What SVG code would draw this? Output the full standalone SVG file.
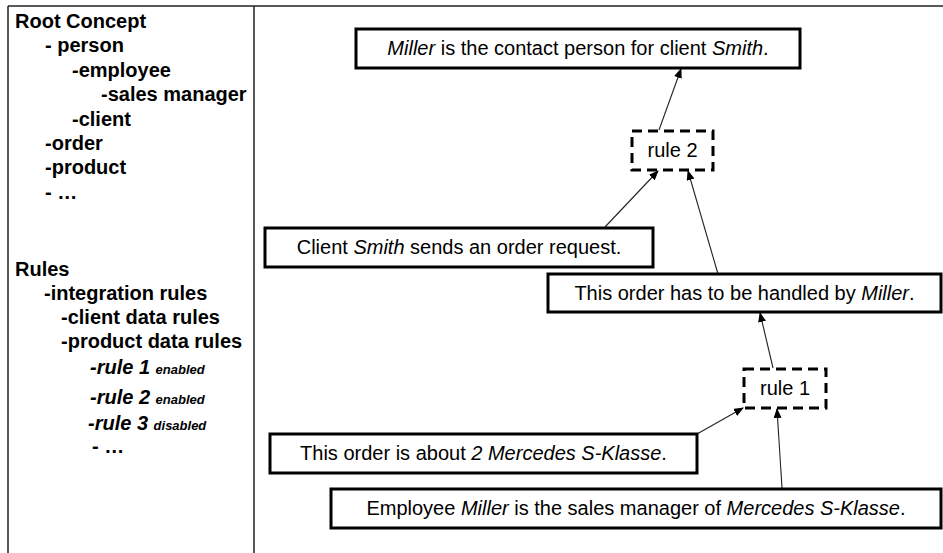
<svg xmlns="http://www.w3.org/2000/svg" width="943" height="553" viewBox="0 0 943 553">
<style>
text{font-family:"Liberation Sans",Arial,sans-serif;fill:#000}
.t{font-size:20px;font-weight:bold}
.n{font-size:20px}
.s{font-size:13px;font-weight:bold;font-style:italic}
.box{fill:#fff;stroke:#000;stroke-width:3}
.rule{fill:#fff;stroke:#000;stroke-width:3;stroke-dasharray:10 6}
.frame{stroke:#222;stroke-width:1.5;fill:none}
.c{stroke:#222;stroke-width:1.1;fill:none;marker-end:url(#ah)}
</style>
<defs>
<marker id="ah" markerUnits="userSpaceOnUse" markerWidth="10" markerHeight="8" refX="9" refY="4" orient="auto">
<path d="M0,0 L10,4 L0,8 Z" fill="#000"/>
</marker>
</defs>
<rect width="943" height="553" fill="#fff"/>
<g id="frame">
<line class="frame" x1="8" y1="6" x2="943" y2="6"/>
<line class="frame" x1="8" y1="6" x2="8" y2="553"/>
<line class="frame" x1="254" y1="6" x2="254" y2="553"/>
</g>
<g id="concepts">
<text class="t" x="15" y="28">Root Concept</text>
<text class="t" x="45" y="52">- person</text>
<text class="t" x="72" y="77">-employee</text>
<text class="t" x="101" y="101">-sales manager</text>
<text class="t" x="72" y="126">-client</text>
<text class="t" x="45" y="150">-order</text>
<text class="t" x="45" y="174">-product</text>
<text class="t" x="45" y="199">- …</text>
</g>
<g id="rules">
<text class="t" x="15" y="276">Rules</text>
<text class="t" x="44" y="300">-integration rules</text>
<text class="t" x="61" y="324">-client data rules</text>
<text class="t" x="61" y="348">-product data rules</text>
<text class="t" x="90" y="374" font-style="italic">-rule 1 <tspan class="s">enabled</tspan></text>
<text class="t" x="90" y="404" font-style="italic">-rule 2  <tspan class="s">enabled</tspan></text>
<text class="t" x="88" y="430" font-style="italic">-rule 3 <tspan class="s">disabled</tspan></text>
<text class="t" x="92" y="453">- …</text>
</g>
<g id="connectors">
<line class="c" x1="659" y1="130" x2="681" y2="69"/>
<line class="c" x1="605" y1="227" x2="658" y2="171"/>
<line class="c" x1="718" y1="274" x2="688" y2="171"/>
<line class="c" x1="773" y1="368" x2="760" y2="313"/>
<line class="c" x1="697" y1="434" x2="743" y2="408"/>
<line class="c" x1="782" y1="488" x2="777" y2="409"/>
</g>
<g id="fact-contact">
<rect class="box" x="356" y="29" width="444" height="39"/>
<text class="n" x="578" y="55" text-anchor="middle"><tspan font-style="italic">Miller</tspan> is the contact person for client <tspan font-style="italic">Smith</tspan>.</text>
</g>
<g id="rule2">
<rect class="rule" x="632" y="131" width="81" height="39"/>
<text class="n" x="672.5" y="157" text-anchor="middle">rule 2</text>
</g>
<g id="fact-request">
<rect class="box" x="265" y="228" width="388" height="39"/>
<text class="n" x="459" y="254" text-anchor="middle">Client <tspan font-style="italic">Smith</tspan> sends an order request.</text>
</g>
<g id="fact-handled">
<rect class="box" x="548" y="274" width="393" height="38"/>
<text class="n" x="744.5" y="300" text-anchor="middle">This order has to be handled by <tspan font-style="italic">Miller</tspan>.</text>
</g>
<g id="rule1">
<rect class="rule" x="744" y="369" width="82" height="39"/>
<text class="n" x="785" y="395" text-anchor="middle">rule 1</text>
</g>
<g id="fact-product">
<rect class="box" x="270" y="434" width="427" height="39"/>
<text class="n" x="483.5" y="460" text-anchor="middle">This order is about <tspan font-style="italic">2 Mercedes S-Klasse</tspan>.</text>
</g>
<g id="fact-manager">
<rect class="box" x="331" y="489" width="610" height="39"/>
<text class="n" x="636" y="515" text-anchor="middle">Employee <tspan font-style="italic">Miller</tspan> is the sales manager of <tspan font-style="italic">Mercedes S-Klasse</tspan>.</text>
</g>
</svg>
